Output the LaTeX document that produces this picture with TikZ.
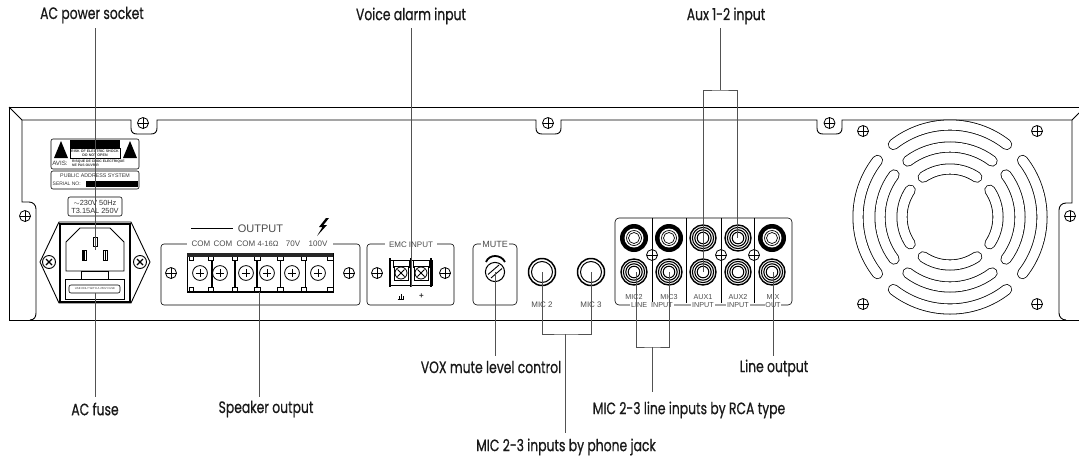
\documentclass[tikz,border=0pt]{standalone}
\usepackage{fontspec}
\setmainfont{Liberation Sans}
\newfontfamily\labfont[FakeStretch=0.75,FakeBold=0.6]{Poppins}
\tikzset{
  x=1pt,y=-1pt,
  line/.style={draw=black,line width=0.9pt},
  thin line/.style={draw=black,line width=0.6pt},
  conn/.style={draw=black!68,line width=1pt},
  lab/.style={font=\labfont\fontsize{16.5}{16.5}\selectfont,text=black!90,inner sep=0pt},
  panel/.style={font=\fontsize{8}{8}\selectfont,text=black!70,inner sep=0.8pt,fill=white},
  small/.style={font=\fontsize{6}{6}\selectfont,text=black!80,inner sep=0pt},
  screwpic/.pic={
    \draw[line width=0.8pt,fill=white] (0,0) circle[radius=5.5pt];
    \draw[line width=0.8pt] (-5.5,0)--(5.5,0) (0,-5.5)--(0,5.5);
  },
  jackpic/.pic={
    \fill[black] (0,0) circle[radius=14pt];
    \fill[white] (0,0) circle[radius=9.5pt];
    \draw[line width=0.7pt] (0,0) circle[radius=7.5pt] (0,0) circle[radius=5.5pt];
  },
  ringpic/.pic={
    \draw[line width=1.4pt,fill=white] (0,0) circle[radius=13pt];
    \draw[line width=1.1pt] (0,0) circle[radius=10.6pt] (0,0) circle[radius=8.2pt];
    \draw[line width=1pt] (0,0) circle[radius=5.8pt];
  }
}
\begin{document}
\begin{tikzpicture}
\useasboundingbox[fill=white] (0,0) rectangle (1079,461);

% chassis
\draw[line] (1079,107) -- (9,107) -- (9,320) -- (1079,320);
\draw[line] (9,107) -- (22,120) -- (131,120) -- (131,128)
  .. controls (131,132) and (133,134) .. (137,134) -- (151,134)
  .. controls (155,134) and (157,132) .. (157,128) -- (157,120) -- (536,120) -- (536,128)
  .. controls (536,132) and (538,134) .. (542,134) -- (555,134)
  .. controls (559,134) and (561,132) .. (561,128) -- (561,120) -- (817,120) -- (817,128)
  .. controls (817,132) and (819,134) .. (823,134) -- (836,134)
  .. controls (840,134) and (842,132) .. (842,128) -- (842,120) -- (1072,120) -- (1079,113);
\draw[line] (22,120) -- (22,202) -- (29,202) .. controls (33,202) and (36,205) .. (36,209)
  -- (36,313) .. controls (36,317) and (34,320) .. (30,320);
\draw[line] (1072,120) -- (1072,203) -- (1066,203) .. controls (1062,203) and (1059,206) .. (1059,210)
  -- (1059,313) .. controls (1059,317) and (1062,320) .. (1066,320);
\foreach \p in {(143,123),(548,123),(829.5,123),(25,216),(1070,216),(863,131),(1037,131),(863,304),(1037,304),(171,273),(349,273),(377,273),(445,273)}
  \pic at \p {screwpic};

% warning labels
\draw[thin line,rounded corners=2pt] (51,139) rectangle (139,169);
\draw[thin line,rounded corners=2pt] (51,171) rectangle (139,189);
\draw[thin line,rounded corners=2pt] (68,197) rectangle (122,216);
\fill (61,141) -- (68,158) -- (54,158) -- cycle;
\fill (130,141) -- (137,158) -- (123,158) -- cycle;
\fill (70,139.5) rectangle (120,148);
\draw[line width=0.5pt] (70,148) rectangle (120,158);
\node[small,font=\fontsize{3.6}{4}\selectfont\bfseries,align=center] (warnen) at (95,153) {RISK OF ELECTRIC SHOCK\\DO NOT OPEN};
\node[small,font=\fontsize{6.2}{6.2}\selectfont] (avis) at (60,163.5) {AVIS:};
\node[small,font=\fontsize{3.4}{4}\selectfont\bfseries,anchor=west,align=left] (warnfr) at (72,163) {RISQUE DE CHOC ELECTRIQUE\\NE PAS OUVRIR};
\node[small,font=\fontsize{5.3}{6}\selectfont] (pas) at (95,175.5) {PUBLIC ADDRESS SYSTEM};
\node[small,font=\fontsize{5}{6}\selectfont,anchor=west] (serial) at (52.5,184) {SERIAL NO:};
\fill (86,181) rectangle (138,187);
\node[small,font=\fontsize{7.4}{8}\selectfont] (volt) at (95,202.5) {$\sim$230V 50Hz};
\node[small,font=\fontsize{7.4}{8}\selectfont] (fusev) at (95,211) {T3.15AL 250V};

% mains socket
\draw[line] (40,262) -- (59,222) -- (131,222) -- (150,262) -- (131,303) -- (59,303) -- cycle;
\draw[line width=1.6pt] (60,224) rectangle (130,302);
\draw[line] (66,242) -- (80,228) -- (110,228) -- (124,242) -- (124,271) -- (66,271) -- cycle;
\draw[line,fill=white] (93,237) rectangle (97,246);
\draw[line width=1.6pt] (84,250) -- (84,260) (105.5,250) -- (105.5,260);
\draw[line] (82,250) rectangle (86,260) (103.5,250) rectangle (107.5,260);
\draw[thin line] (81,271) rectangle (108,279);
\draw[thin line] (65,279) rectangle (124,299);
\draw[thin line,rounded corners=2pt] (69,285) rectangle (120,293);
\node[small,font=\fontsize{2.8}{3}\selectfont] (fusetext) at (95,289) {USE ONLY WITH A 250V FUSE};
\foreach \q in {49,140}{
  \draw[line,fill=white] (\q,262) circle[radius=6.5pt];
  \draw[line width=1.2pt] (\q-3,259)--(\q+3,265) (\q-3,265)--(\q+3,259);
}

% output panel
\draw[thin line,rounded corners=3pt] (161,244) rectangle (360,305);
\node[panel,font=\fontsize{11}{11}\selectfont] (outp) at (260.5,228.5) {OUTPUT};
\draw[thin line] (191,228) -- (233,228);
\fill[black] (326,218) -- (319,227) -- (322.5,227) -- (317,236) -- (327,225) -- (323.5,225) -- (329,218) -- cycle;
\fill[white] (187,240) rectangle (333,248);
\node[panel] (com1) at (201,243.5) {COM};
\node[panel] (com2) at (223,243.5) {COM};
\node[panel] (com3) at (246,243.5) {COM};
\node[panel,font=\fontsize{7.6}{8}\selectfont] (ohm) at (268,243.5) {4-16Ω};
\node[panel] (v70) at (293,243.5) {70V};
\node[panel] (v100) at (318,243.5) {100V};
\draw[line width=0.8pt,fill=white] (187,253) rectangle (333,292);
\foreach \xa/\wa in {212/1.6,235/1.6,257/1.6,280/0.7,305/0.7}
  \draw[line width=\wa pt] (\xa,256) -- (\xa,292);
\foreach \xa in {200,220,246,267,292,318}{
  \draw[line width=0.8pt] (\xa,273) circle[radius=7.4pt];
  \draw[line width=0.8pt] (\xa-4.2,273)--(\xa+4.2,273) (\xa,268.8)--(\xa,277.2);
}
\foreach \xa/\xb in {189/193,208/213,232/237,254/260,277/283,301/306,327/333}{
  \draw[line width=0.5pt,fill=white] (\xa,256) rectangle (\xb,260);
  \draw[line width=0.5pt,fill=white] (\xa,287) rectangle (\xb,291);
}
\fill[black!85] (187,253) rectangle (333,256.5);
\draw[line width=1.4pt] (187,291.5) -- (333,291.5);

% EMC panel
\draw[thin line,rounded corners=3pt] (367,244) rectangle (454,305);
\node[panel,font=\fontsize{8}{8}\selectfont,inner xsep=4pt] (emc) at (411,244.5) {EMC INPUT};
\draw[line width=0.7pt] (389,260) rectangle (432,285);
\foreach \xa in {401,421}{
  \draw[line width=0.7pt] (\xa-8,260) rectangle (\xa+8,267);
  \draw[line width=0.7pt,fill=white] (\xa-7,266) rectangle (\xa+7,280);
  \draw[line width=0.8pt] (\xa,273) circle[radius=6pt];
  \draw[line width=0.9pt] (\xa-3.5,269.5)--(\xa+3.5,276.5) (\xa-3.5,276.5)--(\xa+3.5,269.5);
}
\draw[line width=2pt] (390,258) -- (390,287) (411,258) -- (411,287) (431,258) -- (431,287);
\draw[line width=0.7pt] (397.5,299) -- (403.5,299) (399,299) -- (399,295.5) (401,299) -- (401,294) (403,299)--(403,296);
\node[small,font=\fontsize{8}{8}\selectfont\bfseries] (emcplus) at (421.5,296.5) {+};

% mute panel
\draw[thin line,rounded corners=4pt] (473,244) rectangle (517,305);
\node[panel,font=\fontsize{9}{9}\selectfont] (mute) at (495,244.5) {MUTE};
\draw[line width=1.8pt] (486,262) .. controls (489,254) and (501,254) .. (505,262);
\draw[line width=1pt] (495,272) circle[radius=9.6pt];
\draw[line width=0.9pt] (488,274.5) -- (499,265) (491,278) -- (502,268.5);

% jacks
\foreach \xa in {542,591}{
  \draw[line width=1.5pt] (\xa,272) circle[radius=13.5pt];
  \draw[line width=1pt] (\xa,272) circle[radius=10.5pt];
}
\node[panel] (m2) at (542,305) {MIC 2};
\node[panel] (m3) at (591,305) {MIC 3};

% RCA panel
\draw[thin line,rounded corners=4pt] (615,218) rectangle (792,305);
\foreach \xa in {652,686,721,754}
  \draw[thin line] (\xa,218) -- (\xa,303);
\foreach \xa in {652,721,754}
  \pic at (\xa,255) {screwpic};
\foreach \xa in {634,669,772}
  \pic at (\xa,238) {jackpic};
\foreach \xa in {703,738}
  \pic at (\xa,238) {ringpic};
\foreach \xa in {634,669,703,738,772}
  \pic at (\xa,272) {ringpic};
\foreach \n/\xa/\t in {tm2/634/MIC2,tm3/669/MIC3,ta1/703/AUX1,ta2/738/AUX2,tmx/773/MIX}
  \node[panel,font=\fontsize{7.2}{8}\selectfont] (\n) at (\xa,297) {\t};
\foreach \n/\xa/\t in {ti1/652/LINE\ \ INPUT,ti2/703/INPUT,ti3/738/INPUT,ti4/773/OUT}
  \node[panel,font=\fontsize{7.2}{8}\selectfont] (\n) at (\xa,305) {\t};

% fan
\foreach \b in {0,90,180,270}
  \foreach \R/\h in {92/38,70/37,48/34}{
    \draw[line width=11pt,line cap=round] (950,217) ++(\b-\h:\R pt) arc[start angle=\b-\h,end angle=\b+\h,radius=\R pt];
    \draw[white,line width=9.4pt,line cap=round] (950,217) ++(\b-\h:\R pt) arc[start angle=\b-\h,end angle=\b+\h,radius=\R pt];
  }

% labels
\node[lab] (lacp) at (92,15) {AC power socket};
\node[lab] (lvoice) at (411,16) {Voice alarm input};
\node[lab] (laux) at (726,16) {Aux 1-2 input};
\node[lab] (lfuse) at (95,409) {AC fuse};
\node[lab] (lspk) at (266,409) {Speaker output};
\node[lab] (lvox) at (491,367) {VOX mute level control};
\node[lab] (lline) at (774,368) {Line output};
\node[lab] (lrca) at (689,410) {MIC 2-3 line inputs by RCA type};
\node[lab] (lphone) at (566,447) {MIC 2-3 inputs by phone jack};

% connector ends
\coordinate (cacp) at (95,250);   \coordinate (cacpt) at (95,28);
\coordinate (cfuse) at (95,293);  \coordinate (cfuseb) at (95,397);
\coordinate (cspk) at (259,292);  \coordinate (cspkb) at (259,397);
\coordinate (cvoice) at (411,287);\coordinate (cvoicet) at (411,28);
\coordinate (cvox) at (495,272);  \coordinate (cvoxb) at (495,356);
\coordinate (cm2) at (542,272);   \coordinate (cm3) at (591,272);
\coordinate (cmb) at (565.5,334); \coordinate (cphone) at (565.5,433);
\coordinate (cl2) at (636,272);   \coordinate (cl3) at (669,272);
\coordinate (clb) at (652,347);   \coordinate (crca) at (652,392);
\coordinate (cmix) at (773,272);  \coordinate (cmixb) at (773,356);
\coordinate (ca1) at (703,272);   \coordinate (ca2) at (737,238);
\coordinate (cat) at (720,90);    \coordinate (cauxt) at (720,28);

\draw[conn] (cacpt) -- (cacp);
\draw[conn] (cfuse) -- (cfuseb);
\draw[conn] (cspk) -- (cspkb);
\draw[conn] (cvoicet) -- (cvoice);
\draw[conn] (cvox) -- (cvoxb);
\draw[conn] (cm2) |- (cmb) -| (cm3);
\draw[conn] (cmb) -- (cphone);
\draw[conn] (cl2) |- (clb) -| (cl3);
\draw[conn] (clb) -- (crca);
\draw[conn] (cmix) -- (cmixb);
\draw[conn] (ca1) |- (cat) -| (ca2);
\draw[conn] (cat) -- (cauxt);
\end{tikzpicture}
\end{document}
